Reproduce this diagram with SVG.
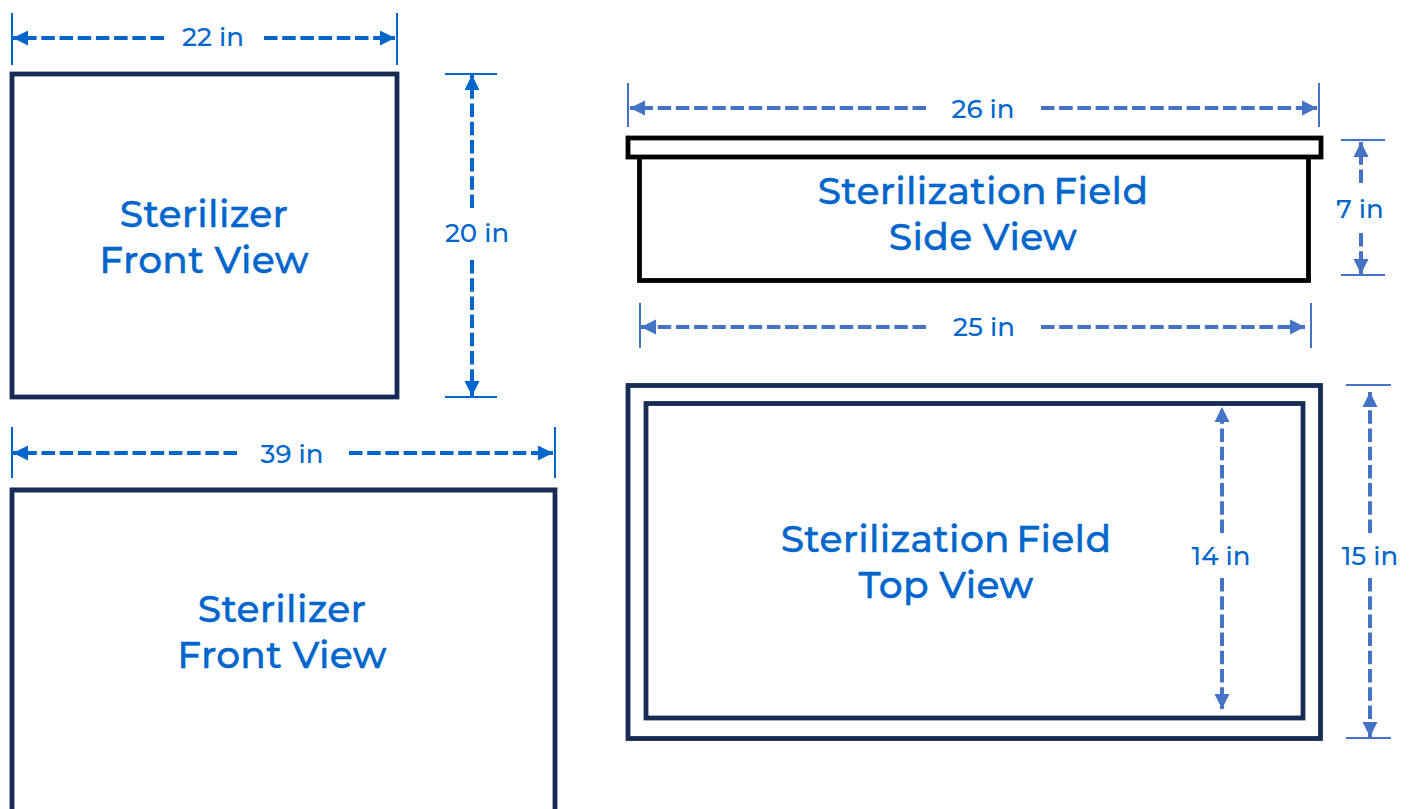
<svg xmlns="http://www.w3.org/2000/svg" width="1411" height="809" viewBox="0 0 1411 809">
<style>
.bg{fill:#fff}
.navy{fill:none;stroke:#172c55;stroke-width:4.8}
.blk{fill:#fff;stroke:#000;stroke-width:4.8}
.t{font-family:Montserrat,"Open Sans","Noto Sans",sans-serif;font-weight:500;font-size:37.6px;letter-spacing:.3px;fill:#0066cc;text-anchor:middle;stroke:#0066cc;stroke-width:.4}
.d{font-family:Montserrat,"Open Sans","Noto Sans",sans-serif;font-weight:500;font-size:26px;fill:#0066cc;text-anchor:middle}
.a{stroke:#0066cc;stroke-width:4;stroke-dasharray:13.5 4.7;fill:none}
.b{stroke:#4472c4;stroke-width:4;stroke-dasharray:13.5 4.7;fill:none}
.ea{stroke:#0066cc;stroke-width:2;fill:none}
.eb{stroke:#4472c4;stroke-width:2;fill:none}
</style>
<defs>
<marker id="me" markerUnits="userSpaceOnUse" markerWidth="16" markerHeight="16" refX="15" refY="8" orient="auto"><path d="M0 0.5L15 8L0 15.500z" fill="#0066cc"/></marker>
<marker id="mb" markerUnits="userSpaceOnUse" markerWidth="16" markerHeight="16" refX="15" refY="8" orient="auto"><path d="M0 0.5L15 8L0 15.500z" fill="#4472c4"/></marker>
</defs>
<rect class="bg" width="1411" height="809"/>
<g id="connectors">
<path class="ea" d="M12 13V65M397 13V65M445 74H497M445 397H497M12 427V478M555 427V478"/>
<path class="a" marker-end="url(#me)" d="M164 38H13"/><path class="a" marker-end="url(#me)" d="M264 38H395"/>
<path class="a" marker-end="url(#me)" d="M472 208V75"/><path class="a" marker-end="url(#me)" d="M472 260V396"/>
<path class="a" marker-end="url(#me)" d="M237 453H13"/><path class="a" marker-end="url(#me)" d="M349 453H553"/>
<path class="eb" d="M628 83V127M1319 83V127M1341 140H1385M1341 275H1385M640 303V348M1311 303V348M1346 385H1391M1346 738H1391"/>
<path class="b" marker-end="url(#mb)" d="M926 108H630"/><path class="b" marker-end="url(#mb)" d="M1041 108H1317"/>
<path class="b" marker-end="url(#mb)" d="M926 327H641"/><path class="b" marker-end="url(#mb)" d="M1041 327H1305"/>
<path class="b" marker-end="url(#mb)" d="M1361 183V142"/><path class="b" marker-end="url(#mb)" d="M1361 233V274"/>
<path class="b" marker-end="url(#mb)" d="M1222 533V407"/><path class="b" marker-end="url(#mb)" d="M1222 578V709"/>
<path class="b" marker-end="url(#mb)" d="M1370 533V392"/><path class="b" marker-end="url(#mb)" d="M1370 578V737"/>
</g>
<g id="front-1"><rect class="navy" x="12" y="74" width="385" height="323"/><text class="t" x="204" y="227">Sterilizer</text><text class="t" x="204" y="272.500">Front View</text></g>
<g id="front-2"><path class="navy" d="M12 820V490H555V820"/><text class="t" x="282" y="622">Sterilizer</text><text class="t" x="282" y="667.500">Front View</text></g>
<g id="side"><rect class="blk" x="639.5" y="155" width="669" height="125.500"/><rect class="blk" x="628" y="138" width="693" height="19"/><text class="t" x="983" y="204" word-spacing="-4">Sterilization Field</text><text class="t" x="983" y="249.500">Side View</text></g>
<g id="top"><rect class="navy" x="628" y="385.500" width="692.500" height="353"/><rect class="navy" x="646" y="403.500" width="657" height="314.500"/><text class="t" x="946" y="552" word-spacing="-4">Sterilization Field</text><text class="t" x="946" y="597.500">Top View</text></g>
<g id="labels">
<text class="d" x="213" y="46">22 in</text><text class="d" x="477" y="242">20 in</text><text class="d" x="292" y="463">39 in</text>
<text class="d" x="983" y="118">26 in</text><text class="d" x="984" y="336">25 in</text><text class="d" x="1360" y="218">7 in</text><text class="d" x="1221" y="565">14 in</text><text class="d" x="1370" y="565">15 in</text>
</g>
</svg>
